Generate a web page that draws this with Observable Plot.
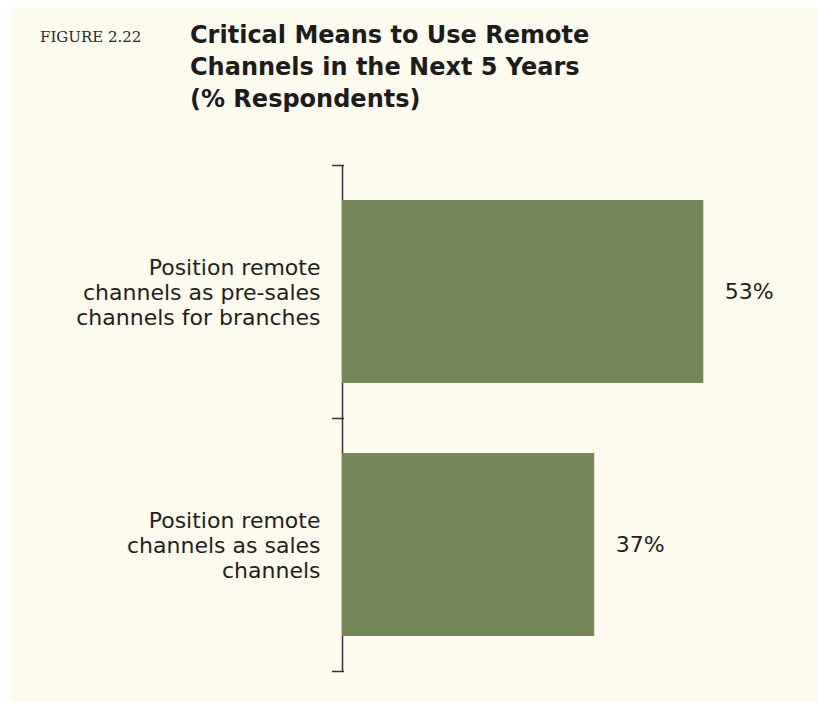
<!DOCTYPE html>
<html><head><meta charset="utf-8">
<script src="https://cdn.jsdelivr.net/npm/d3@7"></script>
<script src="https://cdn.jsdelivr.net/npm/@observablehq/plot@0.6"></script>
<style>
html,body{margin:0;padding:0;background:#fff;}
body{width:817px;height:702px;position:relative;overflow:hidden;}
#panel{position:absolute;left:12px;top:7px;width:805px;height:695px;background:#fdfaee;}
#fig{position:absolute;left:40px;top:30px;font-family:"DejaVu Serif";font-size:15px;line-height:15px;color:#2a2a2a;white-space:nowrap;}
#title{position:absolute;left:190px;top:19px;font-family:"DejaVu Sans";font-weight:bold;font-size:24px;line-height:32px;color:#1c1c1c;}
#chart{position:absolute;left:0;top:130px;}
</style>
</head><body>
<div id="panel"></div>
<div id="fig">FIGURE 2.22</div>
<div id="title">Critical Means to Use Remote<br>Channels in the Next 5 Years<br>(% Respondents)</div>
<div id="chart"></div>
<script>
const categories = ["Position remote channels as pre-sales channels for branches", "Position remote channels as sales channels"];
const labels = ["Position remote\nchannels as pre-sales\nchannels for branches", "Position remote\nchannels as sales\nchannels"];
const values = [53, 37];
const boundaries = [0, 1, 2];

const data = categories.map((c, i) => ({category: c, label: labels[i], value: values[i], i}));
const pad = 35 / 253;

const chart = Plot.plot({
  width: 817, height: 572,
  marginLeft: 342, marginRight: 66, marginTop: 35, marginBottom: 31,
  style: {background: "transparent", fontFamily: "DejaVu Sans", fontSize: "22px", color: "#1f1f1f"},
  x: {domain: [0, 60], axis: null},
  y: {domain: [0, 2], reverse: true, axis: null},
  marks: [
    Plot.ruleX([0], {stroke: "#333", strokeWidth: 1.5}),
    Plot.ruleY(boundaries, {x1: 0, x2: 0, insetLeft: -10, insetRight: -2, stroke: "#333", strokeWidth: 1.5}),
    Plot.rectX(data, {x1: 0, x2: "value", y1: d => d.i + pad, y2: d => d.i + 1 - pad, fill: "#758659"}),
    Plot.text(data, {x: 0, y: d => d.i + 0.5, text: "label", textAnchor: "end", dx: -22, lineHeight: 25 / 22, fontSize: 22}),
    Plot.text(data, {x: "value", y: d => d.i + 0.5, text: d => d.value + "%", textAnchor: "start", dx: 21, fontSize: 22})
  ]
});
document.getElementById("chart").appendChild(chart);
</script>
</body></html>
